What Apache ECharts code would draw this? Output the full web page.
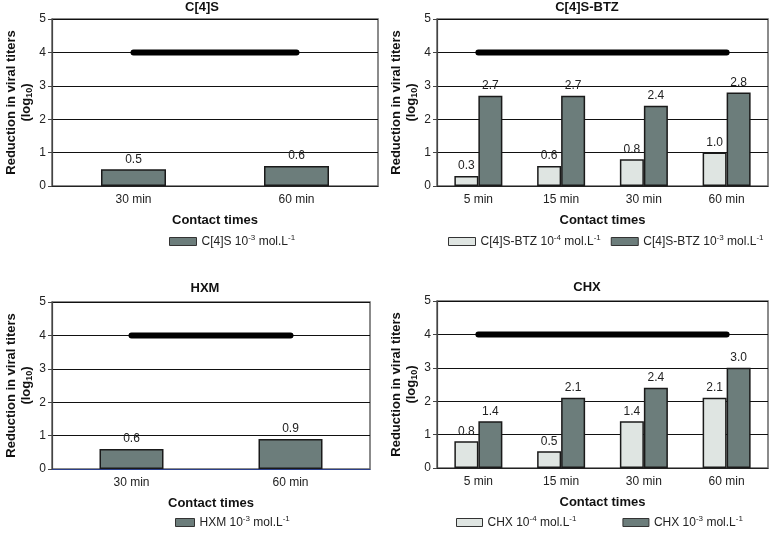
<!DOCTYPE html>
<html>
<head>
<meta charset="utf-8">
<script src="https://cdn.jsdelivr.net/npm/echarts@6/dist/echarts.min.js"></script>
<style>
  html, body { margin: 0; padding: 0; background: #fff; }
  #chart { width: 769px; height: 536px; }
</style>
</head>
<body>
<div id="chart"></div>
<script>
// categories
const timesShort = ["30 min", "60 min"];
const timesLong = ["5 min", "15 min", "30 min", "60 min"];

// valores
const c4s_1e3 = [0.5, 0.6];
const btz_1e4 = [0.3, 0.6, 0.8, 1.0];
const btz_1e3 = [2.7, 2.7, 2.4, 2.8];
const hxm_1e3 = [0.6, 0.9];
const chx_1e4 = [0.8, 0.5, 1.4, 2.1];
const chx_1e3 = [1.4, 2.1, 2.4, 3.0];

// limite de deteccion (linea gruesa en 4)
const limitShort = [4, 4];
const limitLong = [4, 4, 4, 4];

const yTicks = [0, 1, 2, 3, 4, 5];

const FONT = "Liberation Sans, Arial, sans-serif";
const DARK = "#6c7d7b";
const LIGHT = "#dfe5e2";

// nombres de la leyenda con superindices
const legendRich = {
  "C[4]S 10-3": "{n|C[4]S 10}{s|-3}{n| mol.L}{s|-1}",
  "C[4]S-BTZ 10-4": "{n|C[4]S-BTZ 10}{s|-4}{n| mol.L}{s|-1}",
  "C[4]S-BTZ 10-3": "{n|C[4]S-BTZ 10}{s|-3}{n| mol.L}{s|-1}",
  "HXM 10-3": "{n|HXM 10}{s|-3}{n| mol.L}{s|-1}",
  "CHX 10-4": "{n|CHX 10}{s|-4}{n| mol.L}{s|-1}",
  "CHX 10-3": "{n|CHX 10}{s|-3}{n| mol.L}{s|-1}"
};

var chartDom = document.getElementById("chart");
var myChart = echarts.init(chartDom);

const grids = [
  { left: 52, top: 19, width: 326, height: 167 },
  { left: 437, top: 19, width: 331, height: 167 },
  { left: 52, top: 302, width: 318, height: 167 },
  { left: 437, top: 301, width: 331, height: 167 }
];

function xAxisFor(i, data, lineColor) {
  return {
    type: "category",
    gridIndex: i,
    data: data,
    axisLine: { lineStyle: { color: lineColor, width: 1.2 } },
    axisTick: { show: false },
    axisLabel: { color: "#222", fontSize: 12, fontFamily: FONT, margin: 8 },
    name: "Contact times",
    nameLocation: "middle",
    nameGap: 28,
    nameTextStyle: { color: "#111", fontSize: 13, fontWeight: "bold", fontFamily: FONT }
  };
}

function yAxisFor(i) {
  return {
    type: "value",
    gridIndex: i,
    min: yTicks[0],
    max: yTicks[yTicks.length - 1],
    interval: 1,
    axisLine: { show: true, lineStyle: { color: "#444", width: 1.2 } },
    axisTick: { show: true, length: 4, lineStyle: { color: "#444" } },
    axisLabel: { color: "#222", fontSize: 12, fontFamily: FONT, margin: 6 },
    splitLine: { lineStyle: { color: "#111", width: 1 } },
    name: "{b|Reduction in viral titers}\n{b|(log}{sub|10}{b|)}",
    nameLocation: "middle",
    nameRotate: 90,
    nameGap: 18,
    nameTextStyle: {
      rich: {
        b: { fontSize: 13, fontWeight: "bold", color: "#111", fontFamily: FONT, lineHeight: 15 },
        sub: { fontSize: 9, fontWeight: "bold", color: "#111", fontFamily: FONT, padding: [6, 0, 0, 0], lineHeight: 15 }
      }
    }
  };
}

function barSeries(name, i, data, color, width) {
  return {
    name: name,
    type: "bar",
    xAxisIndex: i,
    yAxisIndex: i,
    data: data,
    barWidth: width,
    barGap: "0%",
    itemStyle: { color: color, borderColor: "#1a1a1a", borderWidth: 1.5 },
    label: {
      show: true,
      position: "top",
      distance: 4,
      color: "#222",
      fontSize: 12,
      fontFamily: FONT,
      formatter: (p) => p.value.toFixed(1)
    },
    animation: false
  };
}

function limitSeries(i, data) {
  return {
    type: "line",
    xAxisIndex: i,
    yAxisIndex: i,
    data: data,
    symbol: "none",
    silent: true,
    lineStyle: { color: "#000", width: 6, cap: "round" },
    z: 5,
    animation: false
  };
}

function legendFor(names, left, top, gap, iconW) {
  return {
    data: names,
    left: left,
    top: top,
    width: 330,
    padding: 0,
    icon: "rect",
    itemWidth: iconW,
    itemHeight: 8,
    itemGap: gap,
    itemStyle: { borderWidth: 1, borderColor: "#333" },
    formatter: (n) => legendRich[n],
    textStyle: {
      rich: {
        n: { fontSize: 12, color: "#222", fontFamily: FONT },
        s: { fontSize: 8, color: "#222", fontFamily: FONT, padding: [0, 0, 7, 0] }
      }
    }
  };
}

function titleFor(text, left, top) {
  return {
    text: text,
    left: left,
    top: top,
    padding: 0,
    textAlign: "center",
    textStyle: { fontSize: 13, fontWeight: "bold", color: "#111", fontFamily: FONT }
  };
}

var option = {
  backgroundColor: "#fff",
  animation: false,
  title: [
    titleFor("C[4]S", 202, 1),
    titleFor("C[4]S-BTZ", 587, 1),
    titleFor("HXM", 205, 282),
    titleFor("CHX", 587, 281)
  ],
  legend: [
    legendFor(["C[4]S 10-3"], 169, 234, 10, 27),
    legendFor(["C[4]S-BTZ 10-4", "C[4]S-BTZ 10-3"], 448, 234, 10, 27),
    legendFor(["HXM 10-3"], 175, 515, 10, 19),
    legendFor(["CHX 10-4", "CHX 10-3"], 456, 515, 46, 26)
  ],
  grid: grids.map((g) => Object.assign({ show: true, borderColor: "#666", borderWidth: 1.5, backgroundColor: "#fff" }, g)),
  xAxis: [
    xAxisFor(0, timesShort, "#222"),
    xAxisFor(1, timesLong, "#222"),
    xAxisFor(2, timesShort, "#2b3f8a"),
    xAxisFor(3, timesLong, "#222")
  ],
  yAxis: [yAxisFor(0), yAxisFor(1), yAxisFor(2), yAxisFor(3)],
  series: [
    barSeries("C[4]S 10-3", 0, c4s_1e3, DARK, 65),
    limitSeries(0, limitShort),
    barSeries("C[4]S-BTZ 10-4", 1, btz_1e4, LIGHT, 24),
    barSeries("C[4]S-BTZ 10-3", 1, btz_1e3, DARK, 24),
    limitSeries(1, limitLong),
    barSeries("HXM 10-3", 2, hxm_1e3, DARK, 64),
    limitSeries(2, limitShort),
    barSeries("CHX 10-4", 3, chx_1e4, LIGHT, 24),
    barSeries("CHX 10-3", 3, chx_1e3, DARK, 24),
    limitSeries(3, limitLong)
  ]
};

option && myChart.setOption(option);
</script>
</body>
</html>
